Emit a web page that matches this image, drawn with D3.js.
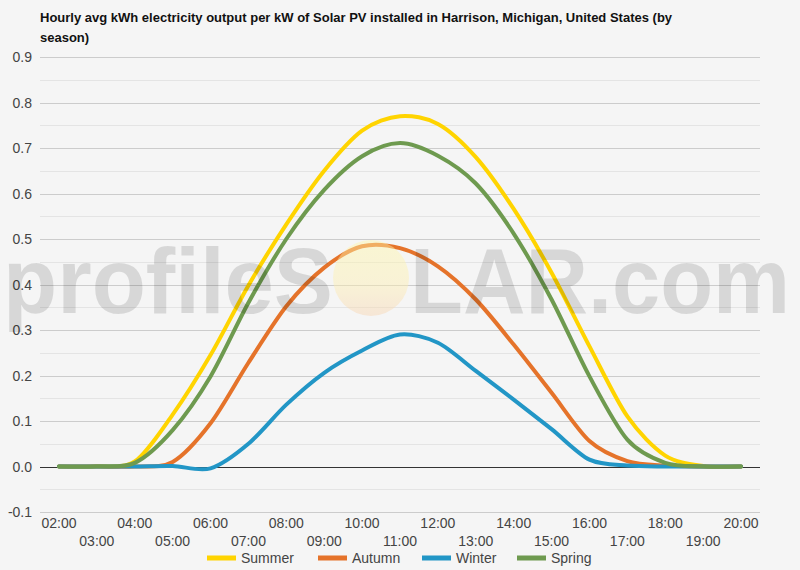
<!DOCTYPE html>
<html>
<head>
<meta charset="utf-8">
<script src="https://cdn.jsdelivr.net/npm/d3@7"></script>
<style>
  body { margin: 0; background: #f5f5f5; }
  svg { display: block; font-family: "Liberation Sans", Arial, sans-serif; }
</style>
</head>
<body>
<div id="chart"></div>
<script>
var hours = ["02:00", "03:00", "04:00", "05:00", "06:00", "07:00", "08:00", "09:00", "10:00", "11:00",
             "12:00", "13:00", "14:00", "15:00", "16:00", "17:00", "18:00", "19:00", "20:00"];
var summer = [0, 0.001, 0.011, 0.114, 0.245, 0.398, 0.532, 0.650, 0.738, 0.770, 0.753, 0.680, 0.566, 0.426, 0.264, 0.110, 0.024, 0.001, 0];
var autumn = [0, 0, 0, 0.010, 0.095, 0.228, 0.352, 0.437, 0.484, 0.480, 0.440, 0.367, 0.268, 0.162, 0.056, 0.012, 0.002, 0, 0];
var winter = [0, 0, 0, 0.001, -0.004, 0.050, 0.136, 0.206, 0.255, 0.290, 0.272, 0.210, 0.147, 0.082, 0.015, 0.002, 0, 0, 0];
var spring = [0, 0, 0.008, 0.080, 0.198, 0.360, 0.500, 0.608, 0.682, 0.711, 0.683, 0.622, 0.512, 0.367, 0.198, 0.059, 0.008, 0, 0];
var seriesNames = ["Summer", "Autumn", "Winter", "Spring"];
var seriesColors = ["#ffd400", "#e5732a", "#2296c6", "#6e9a4f"];
var yTicks = [-0.1, 0, 0.1, 0.2, 0.3, 0.4, 0.5, 0.6, 0.7, 0.8, 0.9];

var title = "Hourly avg kWh electricity output per kW of Solar PV installed in Harrison, Michigan, United States (by";
var title2 = "season)";

var w = 800, h = 570;
var plotLeft = 40, plotRight = 760, plotTop = 57, plotBottom = 512;

var svg = d3.select("#chart").append("svg")
    .attr("width", w)
    .attr("height", h);

svg.append("rect").attr("width", w).attr("height", h).attr("fill", "#f5f5f5");

var x = d3.scaleBand().domain(hours).range([plotLeft, plotRight]);
var y = d3.scaleLinear().domain([-0.1, 0.9]).range([plotBottom, plotTop]);

// minor gridlines (halfway)
svg.append("g").selectAll("line")
    .data(yTicks.slice(0, -1))
    .enter().append("line")
    .attr("x1", plotLeft).attr("x2", plotRight)
    .attr("y1", function(d) { return Math.round(y(d + 0.05)) + 0.5; })
    .attr("y2", function(d) { return Math.round(y(d + 0.05)) + 0.5; })
    .attr("stroke", "#e4e4e4");

// major gridlines
svg.append("g").selectAll("line")
    .data(yTicks)
    .enter().append("line")
    .attr("x1", plotLeft).attr("x2", plotRight)
    .attr("y1", function(d) { return Math.round(y(d)) + 0.5; })
    .attr("y2", function(d) { return Math.round(y(d)) + 0.5; })
    .attr("stroke", function(d) { return d === 0 ? "#333" : "#cccccc"; });

// y labels
svg.append("g").selectAll("text")
    .data(yTicks)
    .enter().append("text")
    .attr("x", 32)
    .attr("y", function(d) { return y(d) + 5; })
    .attr("text-anchor", "end")
    .attr("font-size", "14px")
    .attr("fill", "#444")
    .text(function(d) { return d.toFixed(1); });

// x labels, alternating rows
svg.append("g").selectAll("text")
    .data(hours)
    .enter().append("text")
    .attr("x", function(d) { return x(d) + x.bandwidth() / 2; })
    .attr("y", function(d, i) { return i % 2 === 0 ? 528 : 546; })
    .attr("text-anchor", "middle")
    .attr("font-size", "14px")
    .attr("fill", "#444")
    .text(function(d) { return d; });

// lines
var allSeries = [summer, autumn, winter, spring];
var line = d3.line()
    .x(function(d, i) { return x(hours[i]) + x.bandwidth() / 2; })
    .y(function(d) { return y(d); })
    .curve(d3.curveCardinal.tension(0.1));

svg.append("g").selectAll("path")
    .data(allSeries)
    .enter().append("path")
    .attr("d", line)
    .attr("fill", "none")
    .attr("stroke", function(d, i) { return seriesColors[i]; })
    .attr("stroke-width", 4)
    .attr("stroke-linejoin", "round")
    .attr("stroke-linecap", "round");

// watermark
var defs = svg.append("defs");
var grad = defs.append("linearGradient").attr("id", "sun")
    .attr("x1", 0).attr("y1", 0).attr("x2", 0).attr("y2", 1);
grad.append("stop").attr("offset", "0%").attr("stop-color", "#fff7a8");
grad.append("stop").attr("offset", "60%").attr("stop-color", "#fdeeb0");
grad.append("stop").attr("offset", "100%").attr("stop-color", "#f7d3b0");

svg.append("circle")
    .attr("cx", 371).attr("cy", 278).attr("r", 38)
    .attr("fill", "url(#sun)")
    .attr("opacity", 0.45);

var wm = svg.append("g")
    .attr("fill", "#000")
    .attr("fill-opacity", 0.12)
    .attr("font-weight", "bold")
    .attr("font-size", "92px");
wm.append("text")
    .attr("x", 3).attr("y", 313)
    .attr("textLength", 330)
    .attr("lengthAdjust", "spacingAndGlyphs")
    .text("profileS");
wm.append("text")
    .attr("x", 410).attr("y", 313)
    .attr("textLength", 380)
    .attr("lengthAdjust", "spacingAndGlyphs")
    .text("LAR.com");

// title
svg.append("text")
    .attr("x", 40).attr("y", 22)
    .attr("font-size", "13px")
    .attr("font-weight", "bold")
    .attr("fill", "#111")
    .text(title);
svg.append("text")
    .attr("x", 40).attr("y", 42)
    .attr("font-size", "13px")
    .attr("font-weight", "bold")
    .attr("fill", "#111")
    .text(title2);

// legend
var legendX = [207, 318, 422, 517];
var legend = svg.append("g").selectAll("g")
    .data(seriesNames)
    .enter().append("g")
    .attr("transform", function(d, i) { return "translate(" + legendX[i] + ",558)"; });
legend.append("rect")
    .attr("x", 0).attr("y", -2.5)
    .attr("width", 29).attr("height", 5)
    .attr("fill", function(d, i) { return seriesColors[i]; });
legend.append("text")
    .attr("x", 34).attr("y", 5)
    .attr("font-size", "14px")
    .attr("fill", "#444")
    .text(function(d) { return d; });
</script>
</body>
</html>
